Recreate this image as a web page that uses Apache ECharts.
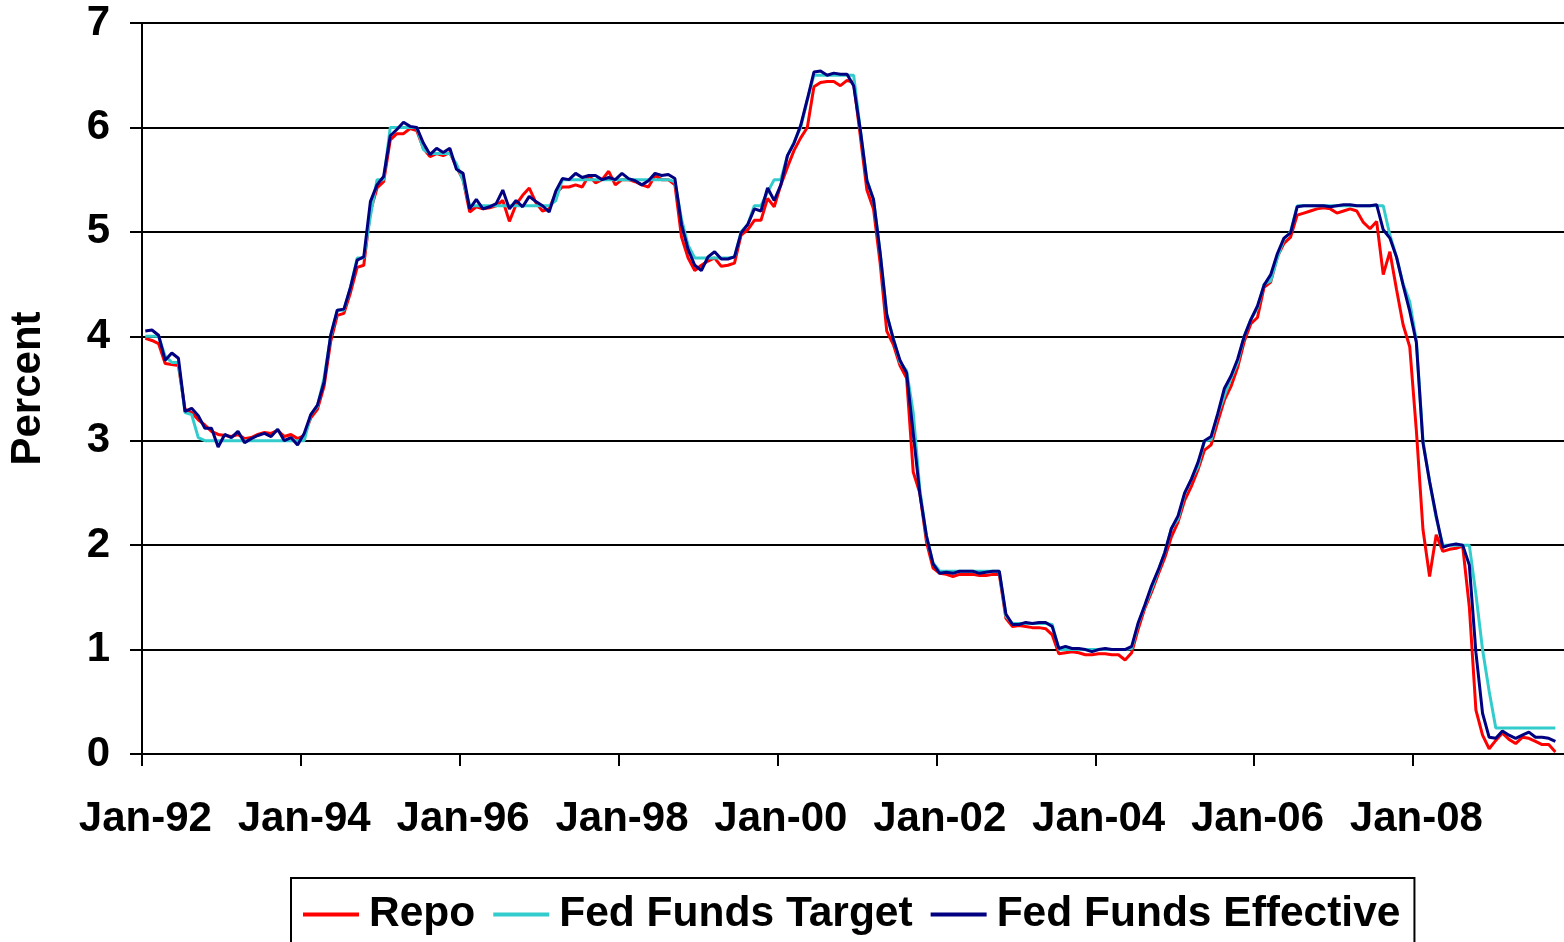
<!DOCTYPE html>
<html>
<head>
<meta charset="utf-8">
<title>Repo vs Fed Funds</title>
<script src="https://cdn.jsdelivr.net/npm/echarts@6/dist/echarts.min.js"></script>
<style>
  html, body { margin: 0; padding: 0; background: #fff; }
  #chart { width: 1564px; height: 942px; }
</style>
</head>
<body>
<div id="chart"></div>
<script>
// Monthly categories Jan-92 .. Dec-09
const MONTH_NAMES = ['Jan','Feb','Mar','Apr','May','Jun','Jul','Aug','Sep','Oct','Nov','Dec'];
const months = [];
for (let y = 1992; y <= 2009; y++) {
  for (let m = 0; m < 12; m++) {
    months.push(MONTH_NAMES[m] + '-' + String(y % 100).padStart(2, '0'));
  }
}

// Overnight repo rate, monthly average (%), Jan-92 .. Oct-09
const repo = [
  3.98, 3.96, 3.93, 3.74, 3.73, 3.72, 3.30, 3.27, 3.20, 3.15, 3.09, 3.06,
  3.05, 3.04, 3.06, 3.02, 3.03, 3.06, 3.08, 3.07, 3.10, 3.04, 3.06, 3.02,
  3.05, 3.22, 3.30, 3.52, 3.95, 4.20, 4.22, 4.42, 4.66, 4.68, 5.20, 5.42,
  5.48, 5.88, 5.94, 5.94, 5.99, 5.97, 5.80, 5.72, 5.75, 5.73, 5.76, 5.62,
  5.50, 5.19, 5.24, 5.22, 5.23, 5.25, 5.30, 5.10, 5.26, 5.35, 5.42, 5.28,
  5.20, 5.22, 5.37, 5.43, 5.43, 5.45, 5.43, 5.54, 5.47, 5.50, 5.58, 5.45,
  5.50, 5.50, 5.48, 5.45, 5.43, 5.54, 5.50, 5.50, 5.45, 4.95, 4.75, 4.63,
  4.68, 4.72, 4.75, 4.67, 4.68, 4.70, 4.97, 5.02, 5.11, 5.11, 5.32, 5.24,
  5.45, 5.62, 5.78, 5.90, 6.00, 6.39, 6.43, 6.44, 6.44, 6.40, 6.45, 6.43,
  5.92, 5.40, 5.22, 4.70, 4.05, 3.92, 3.72, 3.60, 2.70, 2.50, 2.03, 1.78,
  1.73, 1.72, 1.70, 1.72, 1.72, 1.72, 1.71, 1.71, 1.72, 1.72, 1.30, 1.22,
  1.23, 1.22, 1.21, 1.21, 1.20, 1.14, 0.96, 0.97, 0.98, 0.97, 0.95, 0.95,
  0.96, 0.96, 0.95, 0.95, 0.90, 0.97, 1.20, 1.40, 1.55, 1.72, 1.88, 2.08,
  2.22, 2.43, 2.56, 2.72, 2.91, 2.96, 3.18, 3.39, 3.52, 3.70, 3.95, 4.12,
  4.18, 4.47, 4.52, 4.76, 4.89, 4.95, 5.16, 5.18, 5.20, 5.22, 5.23, 5.22,
  5.18, 5.20, 5.22, 5.20, 5.09, 5.03, 5.10, 4.59, 4.81, 4.45, 4.11, 3.90,
  3.10, 2.15, 1.70, 2.10, 1.94, 1.96, 1.97, 1.99, 1.41, 0.42, 0.18, 0.05,
  0.13, 0.20, 0.14, 0.10, 0.16, 0.15, 0.12, 0.09, 0.09, 0.02
];

// Federal funds target rate, monthly average (%)
const fedTarget = [
  4.00, 4.00, 4.00, 3.81, 3.75, 3.75, 3.27, 3.25, 3.03, 3.00, 3.00, 3.00,
  3.00, 3.00, 3.00, 3.00, 3.00, 3.00, 3.00, 3.00, 3.00, 3.00, 3.00, 3.00,
  3.00, 3.25, 3.33, 3.60, 4.00, 4.25, 4.25, 4.47, 4.75, 4.75, 5.15, 5.50,
  5.50, 6.00, 6.00, 6.00, 6.00, 6.00, 5.79, 5.75, 5.75, 5.75, 5.75, 5.65,
  5.49, 5.25, 5.25, 5.25, 5.25, 5.25, 5.25, 5.25, 5.25, 5.25, 5.25, 5.25,
  5.25, 5.25, 5.30, 5.50, 5.50, 5.50, 5.50, 5.50, 5.50, 5.50, 5.50, 5.50,
  5.50, 5.50, 5.50, 5.50, 5.50, 5.50, 5.50, 5.50, 5.48, 5.12, 4.87, 4.75,
  4.75, 4.75, 4.75, 4.75, 4.75, 4.76, 5.00, 5.07, 5.25, 5.25, 5.38, 5.50,
  5.50, 5.73, 5.86, 6.00, 6.26, 6.50, 6.50, 6.50, 6.50, 6.50, 6.50, 6.50,
  5.98, 5.50, 5.31, 4.80, 4.21, 3.98, 3.75, 3.67, 3.27, 2.53, 2.08, 1.83,
  1.75, 1.75, 1.75, 1.75, 1.75, 1.75, 1.75, 1.75, 1.75, 1.75, 1.32, 1.25,
  1.25, 1.25, 1.25, 1.25, 1.25, 1.24, 1.00, 1.00, 1.00, 1.00, 1.00, 1.00,
  1.00, 1.00, 1.00, 1.00, 1.00, 1.01, 1.25, 1.42, 1.58, 1.75, 1.93, 2.16,
  2.25, 2.49, 2.63, 2.75, 3.00, 3.01, 3.25, 3.43, 3.60, 3.75, 4.00, 4.16,
  4.27, 4.50, 4.53, 4.75, 4.93, 5.00, 5.25, 5.25, 5.25, 5.25, 5.25, 5.25,
  5.25, 5.25, 5.25, 5.25, 5.25, 5.25, 5.25, 5.25, 4.97, 4.76, 4.50, 4.33,
  3.96, 3.00, 2.61, 2.26, 2.00, 2.00, 2.00, 2.00, 2.00, 1.53, 1.00, 0.60,
  0.25, 0.25, 0.25, 0.25, 0.25, 0.25, 0.25, 0.25, 0.25, 0.25
];

// Effective federal funds rate, monthly average (%)
const fedEffective = [
  4.05, 4.06, 4.01, 3.77, 3.84, 3.79, 3.28, 3.31, 3.24, 3.12, 3.12, 2.94,
  3.06, 3.03, 3.09, 2.98, 3.02, 3.05, 3.07, 3.04, 3.11, 3.00, 3.03, 2.96,
  3.07, 3.25, 3.34, 3.56, 4.01, 4.25, 4.26, 4.47, 4.73, 4.76, 5.29, 5.45,
  5.53, 5.92, 5.98, 6.05, 6.01, 6.00, 5.85, 5.74, 5.80, 5.76, 5.80, 5.60,
  5.56, 5.22, 5.31, 5.22, 5.24, 5.27, 5.40, 5.22, 5.30, 5.24, 5.34, 5.29,
  5.25, 5.19, 5.39, 5.51, 5.50, 5.56, 5.52, 5.54, 5.54, 5.50, 5.52, 5.50,
  5.56, 5.51, 5.49, 5.45, 5.49, 5.56, 5.54, 5.55, 5.51, 5.07, 4.83, 4.68,
  4.63, 4.76, 4.81, 4.74, 4.74, 4.76, 4.99, 5.07, 5.22, 5.20, 5.42, 5.30,
  5.45, 5.73, 5.85, 6.02, 6.27, 6.53, 6.54, 6.50, 6.52, 6.51, 6.51, 6.40,
  5.98, 5.49, 5.31, 4.80, 4.21, 3.97, 3.77, 3.65, 3.07, 2.49, 2.09, 1.82,
  1.73, 1.74, 1.73, 1.75, 1.75, 1.75, 1.73, 1.74, 1.75, 1.75, 1.34, 1.24,
  1.24, 1.26, 1.25, 1.26, 1.26, 1.22, 1.01, 1.03, 1.01, 1.01, 1.00, 0.98,
  1.00, 1.01, 1.00, 1.00, 1.00, 1.03, 1.26, 1.43, 1.61, 1.76, 1.93, 2.16,
  2.28, 2.50, 2.63, 2.79, 3.00, 3.04, 3.26, 3.50, 3.62, 3.78, 4.00, 4.16,
  4.29, 4.49, 4.59, 4.79, 4.94, 4.99, 5.24, 5.25, 5.25, 5.25, 5.25, 5.24,
  5.25, 5.26, 5.26, 5.25, 5.25, 5.25, 5.26, 5.02, 4.94, 4.76, 4.49, 4.24,
  3.94, 2.98, 2.61, 2.28, 1.98, 2.00, 2.01, 2.00, 1.81, 0.97, 0.39, 0.16,
  0.15, 0.22, 0.18, 0.15, 0.18, 0.21, 0.16, 0.16, 0.15, 0.12
];

// y-axis tick values
const yTicks = [0, 1, 2, 3, 4, 5, 6, 7];

const FONT = '"Liberation Sans", Arial, Helvetica, sans-serif';
const BLACK = '#000000';

const chart = echarts.init(document.getElementById('chart'), null, { renderer: 'canvas' });

chart.setOption({
  animation: false,
  backgroundColor: '#ffffff',
  textStyle: { fontFamily: FONT },
  grid: {
    left: 142, top: 23, width: 6.62 * months.length, height: 731,
    containLabel: false, outerBoundsMode: 'none'
  },
  legend: {
    data: ['Repo', 'Fed Funds Target', 'Fed Funds Effective'],
    left: 291,
    top: 878,
    orient: 'horizontal',
    icon: 'rect',
    itemWidth: 56,
    itemHeight: 4,
    itemGap: 18,
    padding: [15, 14, 40, 12],
    borderColor: BLACK,
    borderWidth: 2,
    textStyle: { fontFamily: FONT, fontSize: 42.5, fontWeight: 'bold', color: BLACK, padding: [0, 0, 0, 5] }
  },
  xAxis: {
    type: 'category',
    data: months,
    boundaryGap: true,
    axisLine: { show: true, lineStyle: { color: BLACK, width: 2 } },
    axisTick: {
      show: true,
      interval: (idx) => idx % 24 === 0,
      length: 12,
      lineStyle: { color: BLACK, width: 2 }
    },
    axisLabel: {
      interval: (idx) => idx % 24 === 0,
      fontFamily: FONT,
      fontSize: 42,
      fontWeight: 'bold',
      color: BLACK,
      margin: 44
    },
    splitLine: { show: false }
  },
  yAxis: {
    type: 'value',
    min: yTicks[0],
    max: yTicks[yTicks.length - 1],
    interval: 1,
    name: 'Percent',
    nameLocation: 'middle',
    nameGap: 93,
    nameRotate: 90,
    nameTextStyle: { fontFamily: FONT, fontSize: 42, fontWeight: 'bold', color: BLACK },
    axisLine: { show: true, lineStyle: { color: BLACK, width: 2 } },
    axisTick: { show: true, length: 12, lineStyle: { color: BLACK, width: 2 } },
    axisLabel: { fontFamily: FONT, fontSize: 42, fontWeight: 'bold', color: BLACK, margin: 32 },
    splitLine: { show: true, lineStyle: { color: BLACK, width: 2 } }
  },
  series: [
    {
      name: 'Repo', type: 'line', data: repo, symbol: 'none',
      lineStyle: { color: '#FF0000', width: 3 }, itemStyle: { color: '#FF0000' }
    },
    {
      name: 'Fed Funds Target', type: 'line', data: fedTarget, symbol: 'none',
      lineStyle: { color: '#33CCCC', width: 3 }, itemStyle: { color: '#33CCCC' }
    },
    {
      name: 'Fed Funds Effective', type: 'line', data: fedEffective, symbol: 'none',
      lineStyle: { color: '#000080', width: 3 }, itemStyle: { color: '#000080' }
    }
  ]
});
</script>
</body>
</html>
